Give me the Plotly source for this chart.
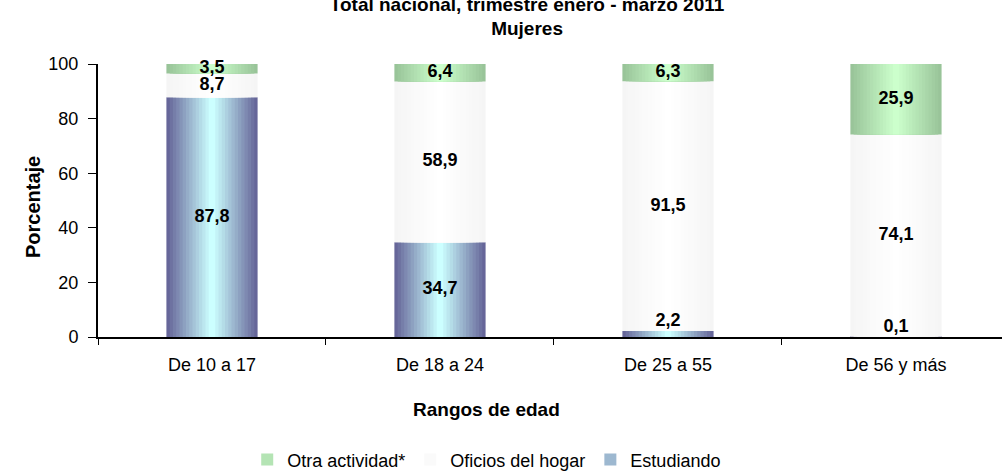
import plotly.graph_objects as go

categorias = ['De 10 a 17', 'De 18 a 24', 'De 25 a 55', 'De 56 y más']
estudiando = [87.8, 34.7, 2.2, 0.1]
oficios_hogar = [8.7, 58.9, 91.5, 74.1]
otra_actividad = [3.5, 6.4, 6.3, 25.9]
y_ticks = [0, 20, 40, 60, 80, 100]

FONT = 'Liberation Sans, Arial, sans-serif'
ANCHO = 0.40
PASOS = 14

# (nombre, valores, color borde, color centro, orden leyenda)
series = [
    ('Estudiando', estudiando, (102, 102, 153), (204, 255, 255), 3),
    ('Oficios del hogar', oficios_hogar, (245, 245, 245), (255, 255, 255), 2),
    ('Otra actividad*', otra_actividad, (153, 196, 153), (204, 255, 204), 1),
]


def mezcla(c1, c2, t):
    return 'rgb(%d,%d,%d)' % tuple(round(a + (b - a) * t) for a, b in zip(c1, c2))


fig = go.Figure()

base = [0.0] * len(categorias)
etiquetas_x, etiquetas_y, etiquetas_txt, etiquetas_pos = [], [], [], []
for nombre, valores, borde, centro, rango in series:
    # degradado horizontal: barras superpuestas cada vez mas estrechas
    for k in range(PASOS):
        t = k / (PASOS - 1)
        fig.add_trace(go.Bar(
            x=categorias, y=valores, base=base,
            width=ANCHO * (1 - k / PASOS),
            marker=dict(color=mezcla(borde, centro, t), line=dict(width=0)),
            name=nombre, legendgroup=nombre, legendrank=rango,
            showlegend=(k == PASOS // 2),
            hoverinfo='skip' if k else None,
        ))
    for i, v in enumerate(valores):
        etiquetas_x.append(categorias[i])
        etiquetas_txt.append(('%.1f' % v).replace('.', ','))
        if v < 3 and nombre == 'Estudiando':
            etiquetas_y.append(base[i] + v)
            etiquetas_pos.append('top center')
        else:
            etiquetas_y.append(base[i] + v / 2)
            etiquetas_pos.append('middle center')
    base = [b + v for b, v in zip(base, valores)]

fig.add_trace(go.Scatter(
    x=etiquetas_x, y=etiquetas_y, text=etiquetas_txt, mode='text',
    textposition=etiquetas_pos,
    textfont=dict(family=FONT, size=18, color='black', weight='bold'),
    showlegend=False, hoverinfo='skip', cliponaxis=False,
))

fig.update_layout(
    width=1002, height=472,
    barmode='overlay',
    paper_bgcolor='white', plot_bgcolor='white',
    margin=dict(l=98, r=0, t=64, b=135, autoexpand=False),
    font=dict(family=FONT, size=18, color='black'),
    title=dict(
        text='Total nacional, trimestre enero - marzo 2011<br>Mujeres',
        x=0.526, xanchor='center', y=0.9774, yanchor='middle',
        xref='container', yref='container',
        font=dict(family=FONT, size=19, color='black', weight='bold'),
    ),
    legend=dict(
        orientation='h', x=0.43, xanchor='center', y=-0.45, yanchor='middle',
        font=dict(family=FONT, size=18, color='black'),
        itemwidth=30, bgcolor='rgba(0,0,0,0)',
    ),
    xaxis=dict(
        range=[-0.5, 3.465], showline=True, linecolor='black', linewidth=2,
        ticks='outside', tickson='boundaries', ticklen=6, tickcolor='black',
        ticklabelstandoff=10, showgrid=False, zeroline=False, automargin=False,
    ),
    yaxis=dict(
        range=[0, 100], tickvals=y_ticks, showline=True, linecolor='black',
        linewidth=2, ticks='outside', ticklen=8, tickcolor='black',
        ticklabelstandoff=6, showgrid=False, zeroline=False, automargin=False,
    ),
    annotations=[
        dict(text='<b>Porcentaje</b>', textangle=-90, xref='paper', yref='paper',
             x=-0.0863, y=0.476, showarrow=False, font=dict(size=20)),
        dict(text='<b>Rangos de edad</b>', xref='paper', yref='paper',
             x=0.43, y=-0.311, showarrow=False, font=dict(size=19)),
    ],
)

# sin margen del body para que la figura ocupe la ventana completa
fig.write_html('out.html', config={'displayModeBar': False},
               post_script="document.body.style.margin='0';")
